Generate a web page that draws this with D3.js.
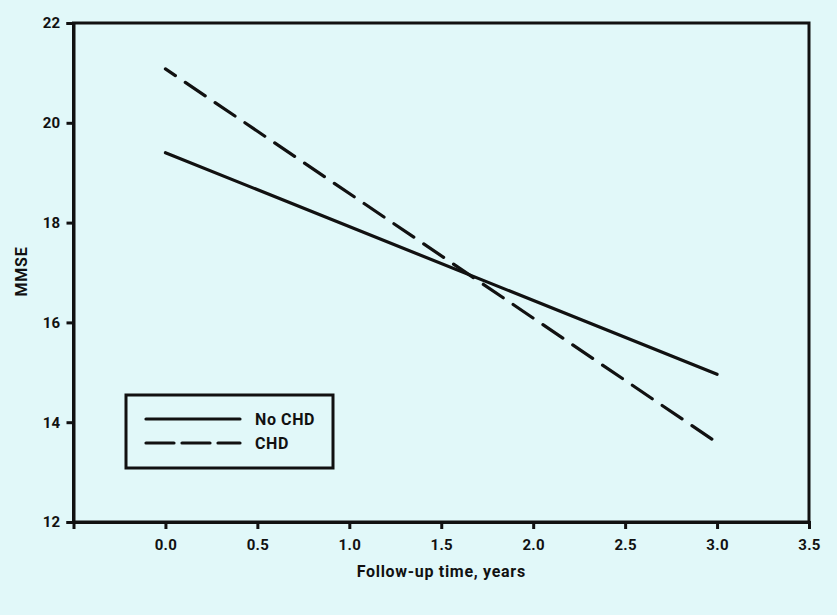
<!DOCTYPE html>
<html>
<meta charset="utf-8">
<script src="https://d3js.org/d3.v7.min.js"></script>
<style>
  body { margin: 0; background: #e1f8f9; }
  text { font-family: Roboto, "DejaVu Sans", sans-serif; font-weight: 700; fill: #111; }
</style>
<body>
<div id="my_dataviz"></div>
<script>

// data
var years = [0, 3];
var noChd = [19.40, 14.96];
var chd = [21.08, 13.59];
var seriesNames = ["No CHD", "CHD"];
var xTicks = [0, 0.5, 1, 1.5, 2, 2.5, 3, 3.5];
var yTicks = [12, 14, 16, 18, 20, 22];

var width = 837, height = 615;
var margin = {top: 23, right: 28, bottom: 93, left: 73.5};

var svg = d3.select("#my_dataviz")
  .append("svg")
    .attr("width", width)
    .attr("height", height);

var x = d3.scaleLinear().domain([-0.5, 3.5]).range([margin.left, width - margin.right]);
var y = d3.scaleLinear().domain([12, 22]).range([height - margin.bottom, margin.top]);

// frame
svg.append("rect")
  .attr("x", x(-0.5)).attr("y", y(22))
  .attr("width", x(3.5) - x(-0.5)).attr("height", y(12) - y(22))
  .attr("fill", "none").attr("stroke", "#111").attr("stroke-width", 3);

// axes
var xAxis = svg.append("g")
  .attr("transform", "translate(0," + y(12) + ")")
  .call(d3.axisBottom(x).tickValues(xTicks).tickFormat(d3.format(".1f")).tickSize(7).tickPadding(10));
var yAxis = svg.append("g")
  .attr("transform", "translate(" + x(-0.5) + ",0)")
  .call(d3.axisLeft(y).tickValues(yTicks).tickSize(7).tickPadding(6));

[xAxis, yAxis].forEach(function(a) {
  a.select(".domain").attr("stroke", "#111").attr("stroke-width", 3);
  a.selectAll(".tick line").attr("stroke", "#111").attr("stroke-width", 3);
  a.selectAll(".tick text").style("font-size", "15px").attr("fill", "#111")
    .style("font-family", "Roboto, sans-serif").style("font-weight", 700)
    .style("letter-spacing", "0.3px");
});

// titles
svg.append("text")
  .attr("x", (x(-0.5) + x(3.5)) / 2).attr("y", 577)
  .attr("text-anchor", "middle").style("font-size", "16px")
  .style("letter-spacing", "0.7px")
  .text("Follow-up time, years");
svg.append("text")
  .attr("transform", "translate(27," + 271.5 + ") rotate(-90)")
  .attr("text-anchor", "middle").style("font-size", "16px")
  .style("letter-spacing", "0.8px")
  .text("MMSE");

// lines
var line = d3.line()
  .x(function(d, i) { return x(years[i]); })
  .y(function(d) { return y(d); });

svg.append("path")
  .datum(noChd)
  .attr("d", line)
  .attr("fill", "none").attr("stroke", "#111").attr("stroke-width", 3.2)
  .attr("stroke-linecap", "round");

svg.append("path")
  .datum(chd)
  .attr("d", line)
  .attr("fill", "none").attr("stroke", "#111").attr("stroke-width", 3.2)
  .attr("stroke-linecap", "round")
  .attr("stroke-dasharray", "24,12")
  .attr("stroke-dashoffset", 12);

// legend
var lg = svg.append("g");
lg.append("rect")
  .attr("x", 126).attr("y", 395).attr("width", 207).attr("height", 73)
  .attr("fill", "none").attr("stroke", "#111").attr("stroke-width", 3);
var dashes = [null, "28,8"];
seriesNames.forEach(function(name, i) {
  var yy = 419 + i * 24;
  lg.append("line")
    .attr("x1", 146).attr("x2", 240).attr("y1", yy).attr("y2", yy)
    .attr("stroke", "#111").attr("stroke-width", 3.2)
    .attr("stroke-linecap", "round")
    .attr("stroke-dasharray", dashes[i]);
  lg.append("text")
    .attr("x", 255).attr("y", yy + 6)
    .style("font-size", "16px")
    .style("letter-spacing", "0.6px")
    .text(name);
});

</script>
</body>
</html>
